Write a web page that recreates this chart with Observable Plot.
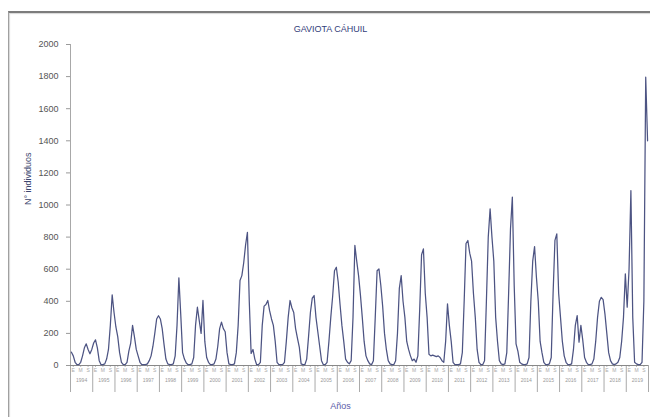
<!DOCTYPE html>
<html>
<head>
<meta charset="utf-8">
<script src="https://cdn.jsdelivr.net/npm/d3@7"></script>
<script src="https://cdn.jsdelivr.net/npm/@observablehq/plot@0.6"></script>
<style>
  html, body { margin: 0; padding: 0; background: #ffffff; }
  #wrap { position: relative; width: 650px; height: 417px; overflow: hidden; }
  #box { position: absolute; left: 8px; top: 11px; width: 700px; height: 440px;
         border-left: 1px solid #a0a0a0; border-top: 2px solid #7c7c7c;
         box-shadow: inset 1px 1px 1px #d8d8d8; }
  #chart { position: absolute; left: 0; top: 0; }
</style>
</head>
<body>
<div id="wrap"><div id="box"></div><div id="chart"></div></div>
<script>
// ---- data (monthly counts, 12 per year) ----
const title = "GAVIOTA CÁHUIL";
const yLabel = "N° individuos";
const xLabel = "Años";
const years = [1994,1995,1996,1997,1998,1999,2000,2001,2002,2003,2004,2005,2006,
               2007,2008,2009,2010,2011,2012,2013,2014,2015,2016,2017,2018,2019];
const subLabels = ["E", "M", "S"];
const subOffsets = [1.5, 5.5, 9.5];
const yTicks = [0,200,400,600,800,1000,1200,1400,1600,1800,2000];
const counts = [
  83, 60, 20, 5, 5, 20, 60, 110, 135, 100, 73, 100,
  140, 160, 110, 30, 5, 5, 10, 40, 100, 250, 440, 330,
  240, 180, 80, 20, 5, 5, 20, 90, 140, 250, 180, 100,
  60, 20, 5, 5, 5, 10, 30, 60, 120, 200, 290, 310,
  290, 230, 130, 40, 10, 5, 5, 10, 60, 250, 546, 320,
  80, 40, 15, 5, 5, 10, 50, 250, 363, 280, 200, 405,
  150, 50, 20, 5, 5, 10, 40, 120, 230, 270, 230, 210,
  80, 10, 5, 5, 10, 80, 250, 530, 560, 640, 750, 830,
  400, 75, 100, 40, 5, 5, 20, 250, 370, 380, 405, 340,
  290, 250, 150, 20, 5, 5, 5, 20, 150, 300, 405, 360,
  330, 230, 170, 115, 10, 5, 5, 40, 180, 330, 420, 436,
  300, 210, 120, 30, 5, 5, 20, 150, 300, 430, 590, 612,
  520, 380, 250, 150, 40, 20, 10, 30, 300, 748, 650, 560,
  440, 300, 150, 60, 30, 10, 5, 30, 300, 590, 602, 500,
  370, 200, 100, 30, 10, 5, 5, 30, 200, 480, 560, 400,
  300, 150, 100, 60, 30, 40, 20, 60, 350, 690, 727, 450,
  300, 70, 60, 65, 60, 55, 60, 50, 30, 20, 150, 384,
  250, 150, 20, 5, 5, 5, 10, 80, 400, 760, 779, 700,
  650, 450, 300, 100, 20, 5, 5, 30, 400, 800, 976, 800,
  650, 300, 150, 30, 10, 5, 10, 80, 450, 850, 1049, 500,
  135, 90, 20, 10, 5, 5, 10, 50, 400, 650, 741, 550,
  400, 150, 80, 20, 5, 5, 10, 50, 450, 780, 820, 450,
  300, 150, 60, 20, 5, 5, 10, 100, 250, 311, 145, 250,
  160, 50, 20, 5, 5, 10, 40, 150, 300, 400, 425, 410,
  320, 200, 80, 30, 10, 5, 10, 20, 50, 150, 300, 571,
  363, 600, 1090, 300, 20, 10, 5, 5, 20, 400, 1796, 1400
];

// ---- derived tables ----
const nMonths = years.length * 12;
const table = counts.map((n, j) => ({t: j + 0.5, n}));
const yearBounds = d3.range(0, years.length + 1).map(k => k * 12);
const yearMids = years.map((y, k) => ({t: k * 12 + 6, label: String(y)}));
const subTicks = years.flatMap((y, k) => subOffsets.map((o, i) => ({t: k * 12 + o, label: subLabels[i]})));

const font = "'Liberation Sans Narrow', 'Liberation Sans', Arial, sans-serif";

const chart = Plot.plot({
  width: 650,
  height: 417,
  marginLeft: 70,
  marginRight: 2,
  marginTop: 44,
  marginBottom: 52,
  style: {background: "transparent", fontFamily: font, overflow: "visible"},
  x: {domain: [0, nMonths]},
  y: {domain: [0, 2000]},
  marks: [
    Plot.axisY(yTicks, {tickSize: 4, tickPadding: 8, fontSize: 9, stroke: "#9a9a9a", fill: "#555",
      tickFormat: d => String(d), label: null}),
    Plot.ruleX([0], {stroke: "#a8a8a8"}),
    Plot.axisX(yearBounds, {tickSize: 27, tickFormat: () => "", stroke: "#aaa", label: null}),
    Plot.axisX(subTicks.map(d => d.t), {tickSize: 2, tickPadding: 1, fontSize: 5, fill: "#aaa", stroke: "#bbb",
      tickFormat: (d, i) => subTicks[i].label, label: null}),
    Plot.axisX(yearMids.map(d => d.t), {tickSize: 0, tickPadding: 13, fontSize: 5, fill: "#999",
      tickFormat: (d, i) => yearMids[i].label, label: null}),
    Plot.ruleY([0], {stroke: "#888"}),
    Plot.line(table, {x: "t", y: "n", stroke: "#4d5483", strokeWidth: 1.25}),
    Plot.text([title], {text: d => d, frameAnchor: "top", dx: -29, dy: -19, fontSize: 9, fill: "#33407a"}),
    Plot.text([yLabel], {text: d => d, frameAnchor: "left", dx: -42, rotate: -90, fontSize: 9, fill: "#3c466e"}),
    Plot.text([xLabel], {text: d => d, frameAnchor: "bottom", dx: -19, dy: 43, fontSize: 9, fill: "#5c5ca8"})
  ]
});
document.getElementById("chart").appendChild(chart);
</script>
</body>
</html>
